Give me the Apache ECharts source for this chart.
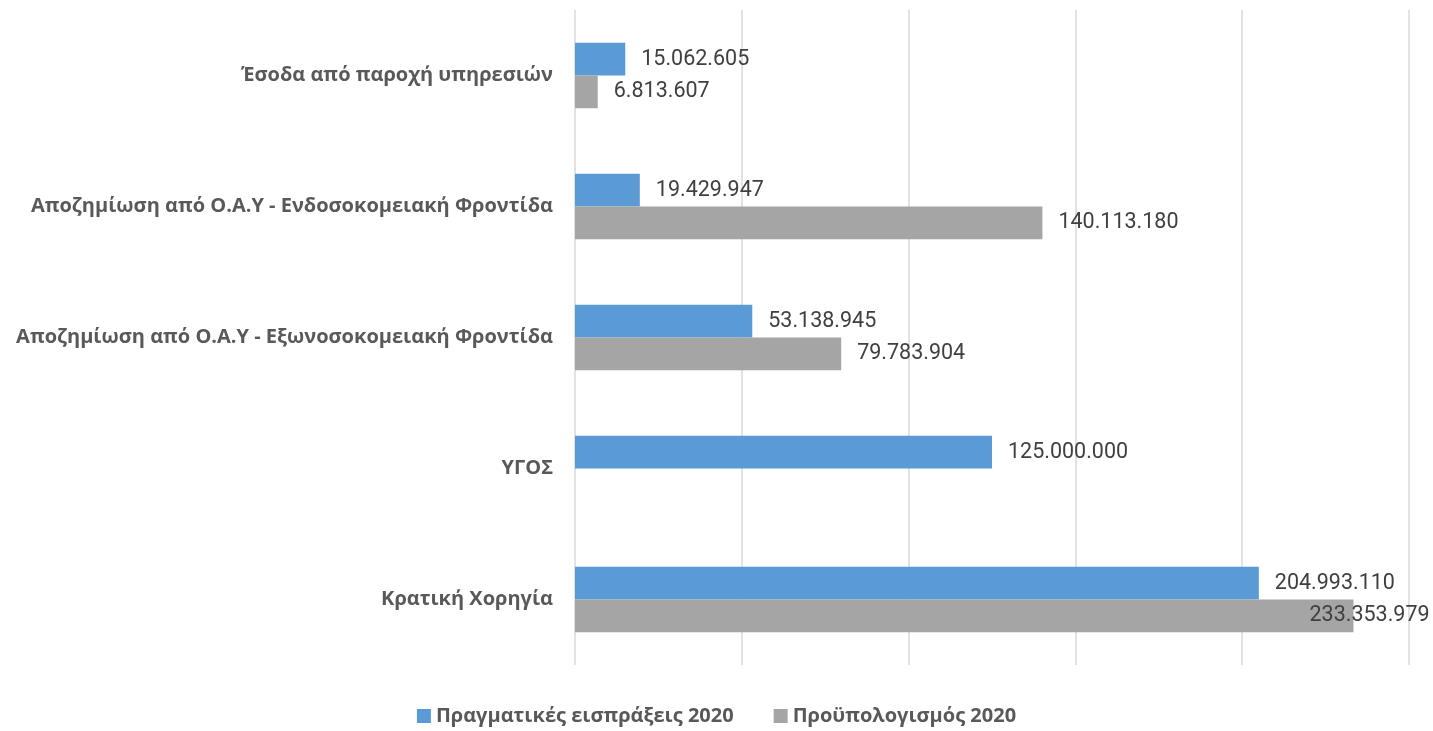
<!DOCTYPE html>
<html>
<head>
<meta charset="utf-8">
<script src="https://cdn.jsdelivr.net/npm/echarts@6/dist/echarts.min.js"></script>
<style>
  html, body { margin: 0; padding: 0; background: #fff; }
  #chart { width: 1433px; height: 731px; }
</style>
</head>
<body>
<div id="chart"></div>
<script>
// κατηγορίες (από πάνω προς τα κάτω)
var categories = [
  'Έσοδα από παροχή υπηρεσιών',
  'Αποζημίωση από Ο.Α.Υ - Ενδοσοκομειακή Φροντίδα',
  'Αποζημίωση από Ο.Α.Υ - Εξωνοσοκομειακή Φροντίδα',
  'ΥΓΟΣ',
  'Κρατική Χορηγία'
];
var seriesNames = ['Πραγματικές εισπράξεις 2020', 'Προϋπολογισμός 2020'];
var actual2020 = [15062605, 19429947, 53138945, 125000000, 204993110];
var budget2020 = [6813607, 140113180, 79783904, null, 233353979];

var fontFam = 'Roboto, "Open Sans", sans-serif';
var boldFam = '"Open Sans", Roboto, sans-serif';

function fmt(v) {
  return String(v).replace(/\B(?=(\d{3})+(?!\d))/g, '.');
}

function toData(arr) {
  var out = [];
  for (var i = 0; i < arr.length; i++) {
    if (arr[i] == null) { out.push(null); continue; }
    var item = { value: arr[i] };
    // η ετικέτα της μεγαλύτερης μπάρας δεν χωράει δεξιά
    if (arr[i] > 220000000) {
      item.label = { offset: [-60, 0] };
    }
    out.push(item);
  }
  return out;
}

var valueLabel = {
  show: true,
  position: 'right',
  distance: 16,
  color: '#404040',
  fontSize: 21.5,
  fontFamily: fontFam,
  formatter: function (p) { return fmt(p.value); }
};

var chart = echarts.init(document.getElementById('chart'));
chart.setOption({
  animation: false,
  grid: { left: 575, right: 24, top: 10, bottom: 66, containLabel: false },
  legend: {
    bottom: 0,
    left: 'center',
    itemWidth: 14,
    itemHeight: 14,
    itemGap: 40,
    icon: 'rect',
    textStyle: { color: '#595959', fontSize: 20, fontWeight: 'bold', fontFamily: boldFam },
    data: seriesNames
  },
  xAxis: {
    type: 'value',
    min: 0,
    max: 250000000,
    interval: 50000000,
    axisLabel: { show: false },
    axisLine: { show: false },
    axisTick: { show: false },
    splitLine: { show: true, lineStyle: { color: '#d9d9d9', width: 1.5 } }
  },
  yAxis: {
    type: 'category',
    inverse: true,
    data: categories,
    axisLine: { show: false },
    axisTick: { show: false },
    axisLabel: {
      color: '#595959',
      fontSize: 20,
      fontWeight: 'bold',
      fontFamily: boldFam,
      margin: 22
    }
  },
  series: [
    {
      name: seriesNames[0],
      type: 'bar',
      data: toData(actual2020),
      itemStyle: { color: '#5b9bd5' },
      barGap: '0%',
      barCategoryGap: '50%',
      label: valueLabel
    },
    {
      name: seriesNames[1],
      type: 'bar',
      data: toData(budget2020),
      itemStyle: { color: '#a5a5a5' },
      barGap: '0%',
      barCategoryGap: '50%',
      label: valueLabel
    }
  ]
});
</script>
</body>
</html>
